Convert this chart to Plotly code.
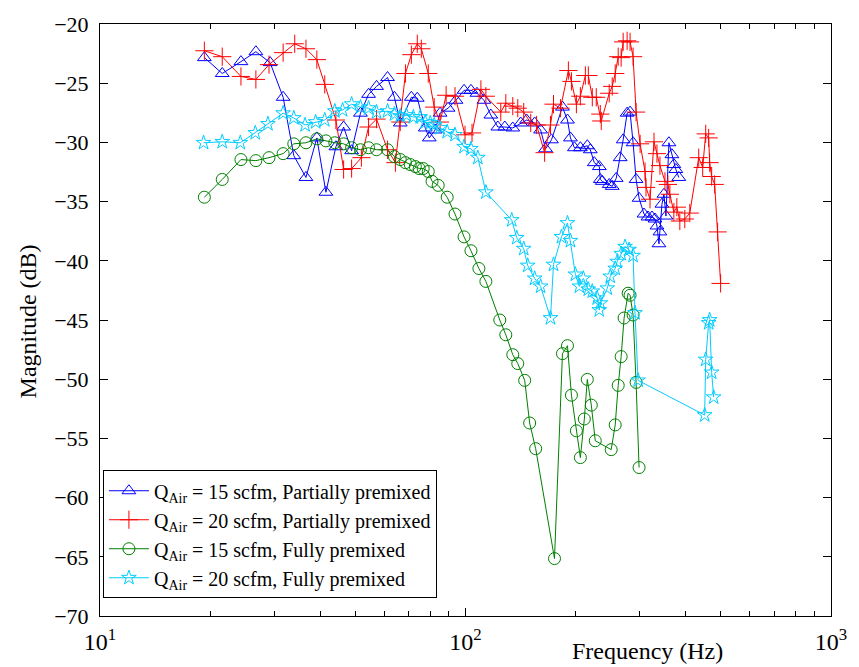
import plotly.graph_objects as go

# ---- data (frequency in Hz, magnitude in dB) ----
f_b15 = [19.3, 21.6, 24.3, 26.7, 29.2, 31.7, 33.9, 36.6, 39.2, 41.5, 44.2, 46.4, 48.8, 51.6, 54.3, 57.1,
         61.2, 63.9, 66.3, 71.1, 73.8, 77.6, 79.6, 82.6, 85.2, 89.6, 94.2, 99.1, 103.5, 107.5, 112.3, 117.3,
         122.6, 128.1, 134.7, 141.6, 147.0, 154.6, 160.5, 165.6, 171.9, 184.2, 190.1, 193.7, 198.6, 206.2,
         215.4, 219.5, 225.1, 232.3, 233.8, 236.7, 247.3, 252.0, 258.4, 265.0, 270.0, 276.8, 282.0, 287.4,
         292.9, 298.5, 307.9, 315.7, 323.7, 329.9, 334.1, 338.3, 340.4, 344.7, 349.1, 353.5, 360.2, 367.0,
         371.6, 376.3, 383.4]
m_b15 = [-22.84, -24.18, -23.18, -22.34, -23.26, -26.19, -31.12, -32.96, -29.62, -34.21, -30.37, -28.70,
         -30.70, -27.53, -25.94, -25.27, -24.52, -26.19, -28.36, -26.19, -26.27, -28.78, -29.62, -28.95,
         -27.53, -27.11, -26.44, -25.60, -25.60, -25.85, -26.44, -27.69, -28.70, -28.70, -28.78, -28.36,
         -28.11, -28.36, -28.95, -30.54, -29.78, -27.02, -28.11, -29.62, -30.45, -30.45, -30.28, -30.62,
         -31.71, -32.04, -33.13, -33.29, -33.55, -33.71, -33.04, -31.29, -29.78, -27.53, -27.44, -30.03,
         -33.13, -34.72, -36.05, -36.30, -36.30, -36.47, -37.06, -38.56, -37.56, -35.22, -34.38, -36.22,
         -30.03, -31.04, -31.87, -32.29, -32.96]

f_r20 = [19.3, 21.6, 24.3, 26.7, 29.0, 31.7, 34.1, 36.6, 39.2, 41.2, 44.2, 46.4, 48.8, 51.9, 54.3, 57.1,
         61.2, 64.3, 66.3, 68.5, 71.1, 73.8, 75.7, 79.1, 82.1, 85.2, 88.5, 93.6, 99.7, 104.2, 110.2, 113.7,
         124.9, 128.9, 134.7, 139.0, 144.3, 150.8, 156.5, 164.6, 170.8, 174.1, 181.9, 191.2, 194.9, 201.1,
         206.2, 212.8, 216.8, 222.3, 227.9, 233.8, 235.2, 247.3, 252.0, 256.8, 261.7, 266.6, 270.0, 276.8,
         282.0, 287.4, 292.9, 300.4, 309.9, 311.8, 319.8, 327.9, 334.1, 340.4, 351.3, 357.9, 362.4, 371.6,
         378.6, 385.8, 398.1, 410.8, 434.6, 445.6, 454.1, 462.7, 465.6, 471.5, 480.5, 489.6, 498.9]
m_r20 = [-22.26, -22.76, -24.43, -24.68, -23.43, -22.42, -21.67, -22.09, -23.01, -25.10, -28.11, -32.29,
         -32.21, -31.29, -28.70, -28.03, -30.62, -31.71, -28.28, -24.18, -22.59, -21.67, -22.09, -24.18,
         -27.02, -28.28, -26.02, -26.10, -29.36, -29.20, -25.52, -26.10, -27.44, -26.69, -26.94, -27.11,
         -27.44, -28.36, -28.53, -30.87, -28.53, -26.77, -27.11, -23.93, -24.85, -26.77, -26.10, -24.35,
         -24.35, -26.19, -26.19, -27.61, -28.19, -25.85, -25.27, -24.18, -22.76, -22.84, -21.51, -21.42,
         -21.51, -22.76, -27.44, -30.12, -32.46, -33.80, -34.80, -29.95, -30.95, -31.96, -33.29, -33.55,
         -34.38, -35.89, -35.47, -36.64, -36.47, -35.97, -31.29, -32.12, -29.28, -29.62, -31.71, -32.88,
         -33.55, -37.56, -41.91]

f_g15 = [19.3, 21.6, 24.3, 26.7, 29.0, 31.7, 33.9, 36.6, 39.2, 41.5, 43.9, 46.4, 48.8, 51.6, 54.3, 57.1,
         61.2, 63.9, 66.3, 68.5, 70.6, 72.9, 74.7, 76.6, 79.1, 81.0, 84.2, 89.1, 93.6, 99.1, 103.5, 108.8,
         113.7, 124.1, 128.9, 134.7, 139.0, 145.2, 149.8, 155.6, 175.2, 184.2, 190.1, 194.9, 201.1, 206.2,
         211.4, 215.4, 220.9, 226.5, 250.4, 256.8, 261.7, 266.6, 271.6, 278.6, 282.0, 287.4, 292.9, 298.5]
m_g15 = [-34.63, -33.13, -31.45, -31.54, -31.29, -30.95, -30.12, -30.03, -29.70, -29.87, -30.03, -30.12,
         -30.45, -30.62, -30.45, -30.62, -30.62, -31.20, -31.45, -31.71, -31.87, -32.04, -32.21, -32.21,
         -32.46, -33.29, -33.63, -34.63, -36.05, -37.98, -39.15, -40.65, -41.74, -45.00, -46.25, -47.93,
         -48.68, -50.10, -53.70, -55.87, -65.15, -47.84, -47.17, -51.35, -54.36, -56.62, -53.36, -50.02,
         -52.19, -55.20, -55.95, -53.86, -50.52, -48.09, -44.83, -42.74, -42.91, -44.58, -50.27, -57.46]

f_c20 = [19.2, 21.6, 24.2, 26.6, 28.8, 31.7, 33.9, 36.4, 38.9, 41.2, 43.9, 46.1, 48.8, 51.6, 54.3, 57.1,
         61.2, 63.9, 66.3, 68.9, 72.0, 75.2, 77.6, 80.1, 82.1, 85.2, 89.1, 93.6, 99.1, 103.5, 108.1, 113.7,
         133.8, 138.1, 144.3, 148.0, 154.6, 160.5, 170.8, 174.1, 183.0, 190.1, 193.7, 199.8, 204.9, 210.1,
         216.8, 222.3, 229.3, 232.3, 233.8, 244.3, 248.9, 256.8, 260.0, 266.6, 273.3, 280.3, 287.4, 290.9,
         296.6, 451.2, 454.1, 462.7, 465.6, 471.5, 477.5]
m_c20 = [-30.03, -29.95, -30.03, -29.20, -28.44, -27.53, -27.94, -28.53, -28.28, -28.11, -27.36, -27.27,
         -26.77, -27.02, -27.11, -27.44, -27.36, -27.61, -27.78, -27.69, -27.86, -27.86, -28.28, -28.36,
         -28.53, -28.78, -29.11, -29.36, -30.37, -30.54, -31.29, -34.21, -36.56, -38.06, -38.98, -40.40,
         -41.49, -42.16, -44.83, -40.32, -37.98, -36.81, -38.31, -41.15, -42.16, -41.49, -42.41, -42.58,
         -43.16, -44.16, -43.58, -42.32, -41.32, -40.65, -40.07, -39.40, -38.81, -39.06, -39.57, -44.41,
         -50.10, -53.03, -48.34, -45.25, -45.00, -49.43, -51.52]

names = ["Q<sub>Air</sub> = 15 scfm, Partially premixed",
         "Q<sub>Air</sub> = 20 scfm, Partially premixed",
         "Q<sub>Air</sub> = 15 scfm, Fully premixed",
         "Q<sub>Air</sub> = 20 scfm, Fully premixed"]
x_tickvals = [10, 100, 1000]
x_ticktext = ["10<sup>1</sup>", "10<sup>2</sup>", "10<sup>3</sup>"]
x_minor_vals = [20, 30, 40, 50, 60, 70, 80, 90, 200, 300, 400, 500, 600, 700, 800, 900]
y_tickvals = [-20, -25, -30, -35, -40, -45, -50, -55, -60, -65, -70]

FONT = "'Times New Roman', 'Liberation Serif', 'DejaVu Serif', serif"

series = [
    (f_b15, m_b15, names[0], "#0000ff", "triangle-up-open", 12),
    (f_r20, m_r20, names[1], "#ff0000", "cross-thin-open", 13),
    (f_g15, m_g15, names[2], "#008000", "circle-open", 12),
    (f_c20, m_c20, names[3], "#00ccff", "star-open", 11),
]

fig = go.Figure()
for fx, my, nm, col, sym, sz in series:
    fig.add_trace(go.Scatter(
        x=fx, y=my, name=nm, mode="lines+markers",
        line=dict(color=col, width=1),
        marker=dict(symbol=sym, size=sz, color=col, line=dict(color=col, width=1)),
    ))

fig.update_layout(
    width=859, height=667,
    margin=dict(l=100, r=24, t=18, b=51),
    paper_bgcolor="white", plot_bgcolor="white",
    font=dict(family=FONT, size=20, color="black"),
    showlegend=True,
    legend=dict(
        x=0.004, y=0.03, xanchor="left", yanchor="bottom",
        bgcolor="white", bordercolor="black", borderwidth=1,
        font=dict(family=FONT, size=20, color="black"),
        tracegroupgap=0, itemwidth=40,
    ),
    xaxis=dict(
        type="log", range=[1, 3],
        tickmode="array", tickvals=x_tickvals, ticktext=x_ticktext,
        ticks="inside", ticklen=8, tickcolor="black",
        showline=True, linecolor="black", linewidth=1, mirror="ticks",
        showgrid=False, zeroline=False,
        tickfont=dict(family=FONT, size=24),
        ticklabelstandoff=4,
        minor=dict(tickmode="array", tickvals=x_minor_vals, ticks="inside", ticklen=5,
                   tickcolor="black", showgrid=False),
    ),
    yaxis=dict(
        range=[-70, -20],
        tickmode="array", tickvals=y_tickvals,
        ticks="inside", ticklen=8, tickcolor="black",
        showline=True, linecolor="black", linewidth=1, mirror="ticks",
        showgrid=False, zeroline=False,
        tickfont=dict(family=FONT, size=22),
        ticklabelstandoff=6,
    ),
)

fig.add_annotation(text="Frequency (Hz)", xref="paper", yref="paper",
                   x=(650 - 100) / 735, y=-(651 - 616) / 598, xanchor="center", yanchor="middle",
                   showarrow=False, font=dict(family=FONT, size=24))
fig.add_annotation(text="Magnitude (dB)", xref="paper", yref="paper",
                   x=-(100 - 28) / 735, y=(616 - 318) / 598, xanchor="center", yanchor="middle",
                   textangle=-90, showarrow=False, font=dict(family=FONT, size=24))

fig.write_html("out.html")
